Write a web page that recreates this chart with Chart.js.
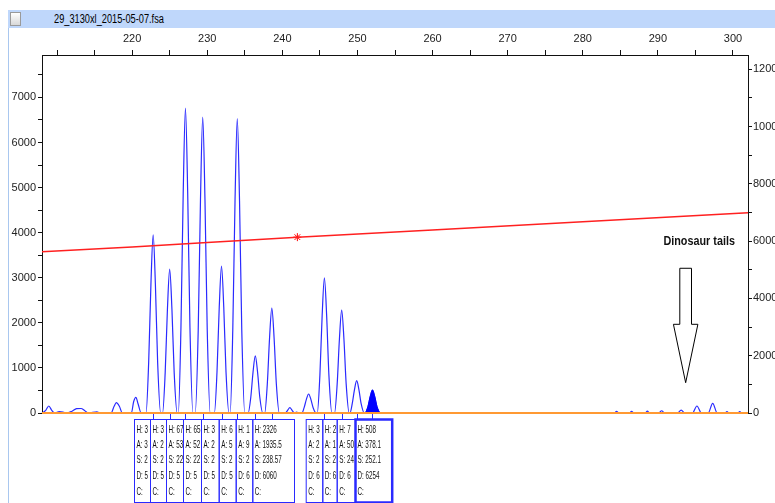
<!DOCTYPE html>
<html lang="en">
<head>
  <meta charset="UTF-8">
  <title>29_3130xl_2015-05-07.fsa</title>
  <script src="https://cdn.jsdelivr.net/npm/chart.js"></script>
  <style>
    body { margin: 0; background: #fff; font-family: 'Liberation Sans', Arial, sans-serif; }
    .wrap { position: relative; width: 775px; height: 503px; overflow: hidden; }
    .frame { position: absolute; left: 8px; top: 10px; width: 1px; height: 493px; background: #a9c7ef; }
    .titlebar { position: absolute; left: 8px; top: 10px; width: 767px; height: 18px; background: #bfd7fb; }
    .check { position: absolute; left: 10px; top: 12px; width: 9px; height: 12px; border: 1px solid #9a9a9a; background: linear-gradient(#fff, #d8d8d8); }
    .title { position: absolute; left: 54px; top: 11px; font-size: 12px; line-height: 16px; color: #000;
             transform: scaleX(0.77); transform-origin: left center; white-space: nowrap; }
    canvas { position: absolute; left: 0; top: 0; }
  </style>
</head>
<body>
<div class="wrap">
  <div class="frame"></div>
  <div class="titlebar"></div>
  <div class="check"></div>
  <div class="title">29_3130xl_2015-05-07.fsa</div>
  <canvas id="myChart" width="775" height="503"></canvas>
</div>

<script>
  // size axis (top) and the two signal axes
  const xMin = 208, xMax = 302;
  const xTicks = [210, 215, 220, 225, 230, 235, 240, 245, 250, 255, 260, 265, 270, 275, 280, 285, 290, 295, 300];
  const xTickLabels = [220, 230, 240, 250, 260, 270, 280, 290, 300];
  const yLeftMax = 7940, yRightMax = 12500;
  const yLeftTicks = [0, 500, 1000, 1500, 2000, 2500, 3000, 3500, 4000, 4500, 5000, 5500, 6000, 6500, 7000, 7500];
  const yLeftLabels = [0, 1000, 2000, 3000, 4000, 5000, 6000, 7000];
  const yRightTicks = [0, 1000, 2000, 3000, 4000, 5000, 6000, 7000, 8000, 9000, 10000, 11000, 12000];
  const yRightLabels = [0, 2000, 4000, 6000, 8000, 10000, 12000];

  // blue trace (size, RFU)
  const traceX = [
    208.0, 208.5, 208.9, 209.3, 209.7, 210.3, 210.8, 211.3, 212.0, 212.6, 213.2, 213.7, 214.2, 215.3, 215.8,
    217.2, 217.6, 217.9, 218.3, 218.7, 219.9, 220.2, 220.5, 220.8, 221.2,
    221.85, 222.2, 222.5, 222.8, 223.1, 223.4, 223.8,
    224.05, 224.4, 224.7, 225.0, 225.3, 225.6, 226.0,
    226.15, 226.5, 226.8, 227.1, 227.4, 227.7, 228.1,
    228.4, 228.8, 229.1, 229.4, 229.7, 230.0, 230.4,
    230.95, 231.3, 231.6, 231.9, 232.2, 232.5, 232.9,
    233.05, 233.4, 233.7, 234.0, 234.3, 234.6, 235.0,
    235.45, 235.8, 236.1, 236.4, 236.7, 237.0, 237.4,
    237.65, 238.0, 238.3, 238.6, 238.9, 239.2, 239.6,
    240.4, 240.7, 241.0, 241.3, 241.6, 241.9, 242.2,
    242.6, 242.9, 243.2, 243.5, 243.8, 244.1, 244.5,
    244.65, 245.0, 245.3, 245.6, 245.9, 246.2, 246.6,
    246.95, 247.3, 247.6, 247.9, 248.2, 248.5, 248.9,
    249.0, 249.3, 249.6, 249.9, 250.2, 250.5, 250.9,
    251.05, 251.4, 251.7, 252.0, 252.3, 252.6, 253.0,
    270.0, 284.2, 284.5, 284.8, 286.2, 286.5, 286.8, 288.3, 288.6, 288.9, 290.1, 290.5, 290.9,
    292.6, 293.1, 293.6, 294.6, 295.2, 295.8, 296.7, 297.3, 297.9, 298.9, 299.2, 299.5, 300.6, 300.9, 301.2, 302.0
  ];
  const traceY = [
    0, 60, 155, 60, 0, 30, 20, 0, 40, 95, 100, 50, 0, 25, 0,
    0, 150, 228, 150, 0, 0, 250, 348, 200, 0,
    0, 1110, 2840, 3950, 2840, 1110, 0,
    0, 890, 2300, 3190, 2300, 890, 0,
    0, 1890, 4870, 6760, 4870, 1890, 0,
    0, 1840, 4720, 6560, 4720, 1840, 0,
    0, 910, 2350, 3260, 2350, 910, 0,
    0, 1830, 4700, 6530, 4700, 1830, 0,
    0, 350, 910, 1265, 910, 350, 0,
    0, 650, 1670, 2326, 1670, 650, 0,
    0, 60, 117, 60, 0, 20, 0,
    0, 118, 303, 421, 303, 118, 0,
    0, 840, 2160, 3000, 2160, 840, 0,
    0, 640, 1640, 2284, 1640, 640, 0,
    0, 200, 515, 716, 515, 200, 0,
    0, 142, 365, 508, 365, 142, 0,
    0, 0, 35, 0, 0, 35, 0, 0, 40, 0, 0, 50, 0,
    0, 65, 0, 0, 155, 0, 0, 215, 0, 0, 30, 0, 0, 30, 0, 0
  ];

  // selected peak (filled)
  const selFrom = 251.0, selTo = 253.1;

  // red line on the right axis
  const redX = [208, 220, 230, 242, 260, 280, 302];
  const redY = [5630, 5800, 5950, 6140, 6390, 6680, 6990];
  const starX = [242];
  const starY = [6140];

  // labelled peaks and their boxes
  const peakX = [222.8, 225.0, 227.1, 229.4, 231.9, 234.0, 236.4, 238.6, 245.6, 247.9, 249.9, 252.0];
  const boxText = [
    ['H: 3', 'A: 3', 'S: 2', 'D: 5', 'C:'],
    ['H: 3', 'A: 2', 'S: 2', 'D: 5', 'C:'],
    ['H: 67', 'A: 53', 'S: 22', 'D: 5', 'C:'],
    ['H: 65', 'A: 52', 'S: 22', 'D: 5', 'C:'],
    ['H: 3', 'A: 2', 'S: 2', 'D: 5', 'C:'],
    ['H: 6', 'A: 5', 'S: 2', 'D: 5', 'C:'],
    ['H: 1', 'A: 9', 'S: 2', 'D: 6', 'C:'],
    ['H: 2326', 'A: 1935.5', 'S: 238.57', 'D: 6060', 'C:'],
    ['H: 3', 'A: 2', 'S: 2', 'D: 6', 'C:'],
    ['H: 2', 'A: 1', 'S: 2', 'D: 6', 'C:'],
    ['H: 7', 'A: 50', 'S: 24', 'D: 6', 'C:'],
    ['H: 508', 'A: 378.1', 'S: 252.1', 'D: 6254', 'C:']
  ];
  // box edges in pixels (two groups)
  const boxEdges = [[134, 150, 166, 183, 201, 218.7, 235.7, 252.3, 294], [305.7, 322.3, 336.7, 355, 391.7]];

  const noteText = 'Dinosaur tails';

  const tickFont = { family: "'Liberation Sans', Arial, sans-serif", size: 11 };

  const trace = traceX.map((x, i) => ({ x: x, y: traceY[i] }));
  const selected = trace.filter(p => p.x >= selFrom && p.x <= selTo);

  // peak label boxes, arrow and note
  const extras = {
    id: 'extras',
    afterDraw(chart) {
      const c = chart.ctx;
      const xs = chart.scales.x, ys = chart.scales.y;
      const base = ys.getPixelForValue(0);
      const top = 419, bottom = 502;
      c.save();
      // connectors
      c.strokeStyle = '#2a2aff';
      c.lineWidth = 1;
      peakX.forEach(v => {
        const px = Math.round(xs.getPixelForValue(v)) + 0.5;
        c.beginPath(); c.moveTo(px, base + 1); c.lineTo(px, top); c.stroke();
      });
      // boxes
      let k = 0;
      const rowY = [430, 445, 460, 476, 492];
      boxEdges.forEach(edges => {
        for (let i = 0; i < edges.length - 1; i++) {
          const l = edges[i], r = edges[i + 1];
          const last = k === boxText.length - 1;
          c.strokeStyle = '#2a2aff';
          c.lineWidth = last ? 2.5 : 1;
          c.strokeRect(l + 0.5, top + 0.5, r - l, bottom - top);
          c.save();
          c.beginPath(); c.rect(l + 1, top + 1, r - l - 1, bottom - top - 1); c.clip();
          c.fillStyle = '#111';
          c.font = "10.5px 'Liberation Sans', Arial, sans-serif";
          c.textBaseline = 'middle';
          boxText[k].forEach((t, j) => {
            c.save();
            c.translate(l + 2.5, rowY[j]);
            c.scale(0.6, 1);
            c.fillText(t, 0, 0);
            c.restore();
          });
          c.restore();
          k++;
        }
      });
      // arrow
      const ax = xs.getPixelForValue(293.7);
      const sw = 0.78 * 7.5, hw = 1.63 * 7.5;
      const aTop = ys.getPixelForValue(3210), aMid = ys.getPixelForValue(1967), aTip = ys.getPixelForValue(672);
      c.strokeStyle = '#000';
      c.lineWidth = 1;
      c.beginPath();
      c.moveTo(ax - sw, aTop); c.lineTo(ax + sw, aTop); c.lineTo(ax + sw, aMid);
      c.lineTo(ax + hw, aMid); c.lineTo(ax, aTip); c.lineTo(ax - hw, aMid);
      c.lineTo(ax - sw, aMid); c.closePath();
      c.stroke();
      // note
      c.fillStyle = '#111';
      c.font = "bold 13.5px 'Liberation Sans', Arial, sans-serif";
      c.textAlign = 'center';
      c.textBaseline = 'middle';
      c.translate(xs.getPixelForValue(295.5), ys.getPixelForValue(3815));
      c.scale(0.8, 1);
      c.fillText(noteText, 0, 0);
      c.restore();
    }
  };

  const ctx = document.getElementById('myChart').getContext('2d');
  new Chart(ctx, {
    type: 'line',
    data: {
      datasets: [
        { data: redX.map((x, i) => ({ x: x, y: redY[i] })), yAxisID: 'y2', borderColor: '#ff2020', borderWidth: 1.5, pointRadius: 0, order: 0, clip: false },
        { data: starX.map((x, i) => ({ x: x, y: starY[i] })), yAxisID: 'y2', showLine: false, pointStyle: 'star', pointRadius: 4, borderColor: '#ff0000', borderWidth: 1, order: 0 },
        { data: [{ x: xMin, y: 0 }, { x: xMax, y: 0 }], yAxisID: 'y', borderColor: '#ff9933', borderWidth: 2, pointRadius: 0, order: 1, clip: false },
        { data: selected, yAxisID: 'y', borderColor: '#0000ff', backgroundColor: '#0000ff', fill: 'origin', borderWidth: 1, pointRadius: 0, cubicInterpolationMode: 'monotone', order: 2 },
        { data: trace, yAxisID: 'y', borderColor: '#2a2aff', borderWidth: 1.2, pointRadius: 0, cubicInterpolationMode: 'monotone', order: 3, clip: false }
      ]
    },
    options: {
      responsive: false,
      animation: false,
      devicePixelRatio: 1,
      layout: { padding: { top: 0, left: 0, right: 0, bottom: 90 } },
      plugins: { legend: { display: false }, tooltip: { enabled: false } },
      scales: {
        x: {
          type: 'linear', position: 'top', min: xMin, max: xMax,
          afterBuildTicks: s => { s.ticks = xTicks.map(v => ({ value: v })); },
          ticks: {
            autoSkip: false, maxRotation: 0, padding: 4,
            font: tickFont, color: '#222',
            callback: v => xTickLabels.includes(v) ? String(v) : ''
          },
          grid: { drawOnChartArea: false, tickLength: 5, color: '#111' },
          border: { color: '#111' },
          afterFit: s => { s.height = 55; }
        },
        y: {
          position: 'left', min: 0, max: yLeftMax,
          afterBuildTicks: s => { s.ticks = yLeftTicks.map(v => ({ value: v })); },
          ticks: {
            autoSkip: false, padding: 2,
            font: tickFont, color: '#222',
            callback: v => yLeftLabels.includes(v) ? String(v) : ''
          },
          grid: { drawOnChartArea: false, tickLength: 4, color: '#111' },
          border: { color: '#111' },
          afterFit: s => { s.width = 42; }
        },
        y2: {
          position: 'right', min: 0, max: yRightMax,
          afterBuildTicks: s => { s.ticks = yRightTicks.map(v => ({ value: v })); },
          ticks: {
            autoSkip: false, padding: 1,
            font: tickFont, color: '#222',
            callback: v => yRightLabels.includes(v) ? String(v) : ''
          },
          grid: { drawOnChartArea: false, tickLength: 4, color: '#111' },
          border: { color: '#111' },
          afterFit: s => { s.width = 27; }
        }
      }
    },
    plugins: [extras]
  });
</script>
</body>
</html>
